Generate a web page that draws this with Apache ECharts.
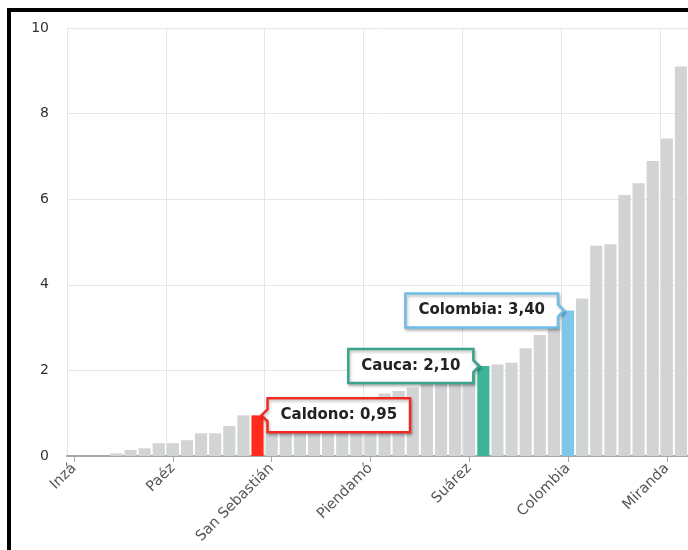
<!DOCTYPE html>
<html>
<head>
<meta charset="utf-8">
<script src="https://cdn.jsdelivr.net/npm/echarts@6/dist/echarts.min.js"></script>
<style>
html,body{margin:0;padding:0;background:#fff;}
#chart{width:688px;height:550px;}
</style>
</head>
<body>
<div id="chart"></div>
<script>
// ---- data ----
const categories = [
  'Inzá','Almaguer','Argelia','Balboa','Bolívar','Buenos Aires','Cajibío',
  'Paéz','Caloto','Corinto','El Tambo','Florencia','Guachené','Caldono',
  'San Sebastián','Guapí','Jambaló','La Sierra','La Vega','López de Micay','Mercaderes',
  'Piendamó','Morales','Padilla','Patía','Piamonte','Popayán','Puerto Tejada',
  'Suárez','Cauca','Puracé','Rosas','Santa Rosa','Santander de Quilichao','Silvia',
  'Colombia','Sotará','Sucre','Timbío','Timbiquí','Toribío','Totoró',
  'Miranda','Villa Rica'
];
const values = [
  0, 0, 0, 0.06, 0.14, 0.18, 0.30,
  0.30, 0.37, 0.53, 0.53, 0.70, 0.95, 0.95,
  1.00, 1.04, 1.08, 1.12, 1.17, 1.22, 1.28,
  1.35, 1.46, 1.52, 1.60, 1.68, 1.75, 1.84,
  1.95, 2.10, 2.14, 2.18, 2.52, 2.83, 3.02,
  3.40, 3.68, 4.91, 4.95, 6.10, 6.37, 6.89,
  7.42, 9.10
];
const highlighted = ['Caldono', 'Cauca', 'Colombia'];
const yTicks = [0, 2, 4, 6, 8, 10];

// ---- styles ----
const baseColor = '#d1d3d4';
const hlStyle = {
  'Caldono':  {bar: '#ff2a1c', border: '#ee2a22', side: 1},
  'Cauca':    {bar: '#3db497', border: '#39a48b', side: -1},
  'Colombia': {bar: '#7ec7ea', border: '#6dbde6', side: -1}
};
const FONT = '"DejaVu Sans", Verdana, sans-serif';
const calloutFont = 'bold 15px ' + FONT;

function fmt(v) { return v.toFixed(2).replace('.', ','); }
const measureCtx = document.createElement('canvas').getContext('2d');
function textWidth(t, f) { measureCtx.font = f; return measureCtx.measureText(t).width; }

const barData = values.map((v, i) => {
  const st = hlStyle[categories[i]];
  return st ? {value: v, itemStyle: {color: st.bar}} : v;
});
const calloutData = highlighted.map(name => {
  const i = categories.indexOf(name);
  return [i, values[i]];
});

const chart = echarts.init(document.getElementById('chart'), null, {renderer: 'canvas'});
chart.setOption({
  animation: false,
  backgroundColor: '#ffffff',
  grid: {left: 67, right: 0, top: 28, bottom: 94, containLabel: false},
  xAxis: {
    type: 'category',
    data: categories,
    boundaryGap: true,
    axisLine: {show: true, lineStyle: {color: '#a6a6a6', width: 2}},
    axisTick: {show: true, alignWithLabel: true, interval: 6, length: 6, lineStyle: {color: '#a6a6a6', width: 1}},
    axisLabel: {interval: 6, rotate: 45, margin: 10, color: '#555', fontSize: 14.5, fontFamily: FONT},
    splitLine: {show: true, interval: 6, lineStyle: {color: '#e6e6e6', width: 1}}
  },
  yAxis: {
    type: 'value',
    min: yTicks[0], max: yTicks[yTicks.length - 1], interval: 2,
    axisLine: {show: false},
    axisTick: {show: false},
    axisLabel: {margin: 18, color: '#333', fontSize: 14, fontFamily: FONT},
    splitLine: {show: true, lineStyle: {color: '#e6e6e6', width: 1}}
  },
  series: [
    {
      type: 'bar',
      data: barData,
      barWidth: '86%',
      itemStyle: {color: baseColor},
      z: 2
    },
    {
      type: 'custom',
      z: 10,
      data: calloutData,
      renderItem: function (params, api) {
        const idx = api.value(0), val = api.value(1);
        const name = categories[idx];
        const st = hlStyle[name];
        const p = api.coord([idx, val]);
        const text = name + ': ' + fmt(val);
        const w = textWidth(text, calloutFont) + 26;
        const h = 34;
        const s = st.side;
        const tipX = p[0] + s * 4;
        const edgeX = p[0] + s * 10;
        const farX = edgeX + s * w;
        const cy = p[1];
        const top = cy - h / 2, bot = cy + h / 2;
        const pts = [[edgeX, top], [farX, top], [farX, bot], [edgeX, bot],
                     [edgeX, cy + 6], [tipX, cy], [edgeX, cy - 6]];
        return {
          type: 'group',
          children: [
            {type: 'polygon', shape: {points: pts},
             style: {fill: '#ffffff', stroke: st.border, lineWidth: 2.5,
                     shadowBlur: 3, shadowOffsetX: 1, shadowOffsetY: 2, shadowColor: 'rgba(0,0,0,0.25)'}},
            {type: 'text', style: {text: text, x: (edgeX + farX) / 2, y: cy,
                     align: 'center', verticalAlign: 'middle', font: calloutFont, fill: '#222'}}
          ]
        };
      }
    }
  ],
  graphic: [
    {type: 'rect', shape: {x: 9, y: 10, width: 1000, height: 1000},
     style: {fill: 'none', stroke: '#000', lineWidth: 4}, z: 100, silent: true}
  ]
});
</script>
</body>
</html>
